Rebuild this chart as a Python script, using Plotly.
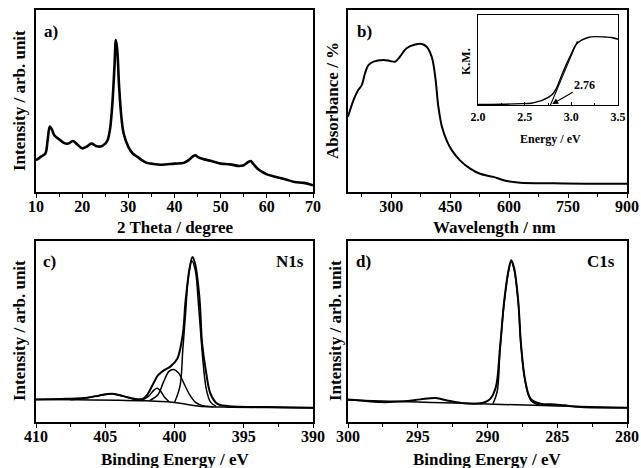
import plotly.graph_objects as go

# ---------------- data ----------------
# a) XRD
xrd_2theta = [10, 11, 12, 12.5, 13, 13.5, 14, 15, 16, 17, 18, 19, 20, 21, 22, 23, 24, 25, 25.5, 26,
              26.5, 27, 27.3, 27.6, 28, 28.5, 29, 30, 31, 32, 33, 34, 35, 37, 40, 42, 43, 44, 44.5,
              45, 46, 48, 50, 52, 54, 55, 56, 56.5, 57, 58, 59, 60, 62, 64, 66, 68, 70]
xrd_intensity = [17.4, 19.3, 21, 28, 36, 34, 31, 29, 27, 26.6, 28, 26, 24, 25, 26.6, 25.3, 25, 26.6, 28.4, 34,
                 47, 69, 83.5, 78, 58, 41, 32, 24.8, 21, 19.3, 17.4, 16, 15.6, 15, 15.6, 16, 17.4, 19.6, 20.2,
                 19.3, 18.3, 17, 15.6, 15.2, 14.3, 14.7, 16.5, 17, 15.6, 12.8, 11, 9.7, 8.3, 7, 5.5, 5, 3.7]

# b) UV-vis
uv_wavelength = [190, 204, 216, 225, 233, 242, 255, 280, 297, 310, 322, 339, 361, 378, 390, 403, 412,
                 420, 429, 441, 454, 475, 501, 526, 560, 594, 628, 713, 798, 900]
uv_absorbance = [41.3, 50.5, 56, 58.7, 65, 69.7, 71.6, 72.5, 72, 71.6, 74.3, 79, 81, 81.3, 79.8, 74.3, 63.3,
                 46.8, 35.8, 28.4, 23, 17.4, 12.8, 10, 8.3, 6, 5.1, 4.8, 4.6, 4.6]

# b) inset: Kubelka-Munk
km_energy = [2.0, 2.25, 2.46, 2.57, 2.64, 2.71, 2.79, 2.84, 2.89, 2.95, 3.0, 3.05, 3.11, 3.18, 3.25,
             3.36, 3.43, 3.5]
km_value = [0.5, 0.8, 1.5, 2, 3.7, 6.3, 11, 18.5, 31.5, 46, 57, 67, 72, 75, 76, 75.5, 75, 73]
tangent_energy = [2.76, 3.065]
tangent_value = [-4, 71]
band_gap_label = "2.76"
band_gap_point = [2.796, 1]
band_gap_text_pos = [3.143, 22]

# c) N1s
n1s_be = [410, 407.8, 406.3, 405.4, 404.5, 403.7, 402.9, 402.3, 402.0, 401.6, 401.2, 400.8, 400.3,
          399.8, 399.4, 399.2, 398.9, 398.7, 398.5, 398.2, 398.0, 397.7, 397.4, 396.9, 395.7, 393.3, 390]
n1s_envelope = [12.5, 12.8, 13.4, 14.7, 15.6, 14.3, 12.8, 12.7, 14.7, 20.2, 25.7, 28.4, 30.6,
                34.9, 48.6, 67, 85.3, 91.2, 87, 68.8, 43, 26.6, 15.6, 10, 8.6, 8.3, 7.9]
n1s_base_be = [410, 407, 404, 402, 400.5, 399.5, 398.5, 397.5, 396, 393, 390]
n1s_base = [12.5, 12.3, 12.0, 11.7, 11.2, 10.2, 9.0, 8.4, 8.2, 8.0, 7.7]
n1s_p1_be = [400.0, 399.6, 399.4, 399.2, 399.0, 398.75, 398.5, 398.3, 398.1, 397.9, 397.7, 397.4, 397.0]
n1s_p1 = [10.8, 20, 40, 60, 80, 89, 84, 68, 48, 30, 18, 11, 8.8]
n1s_p2_be = [401.8, 401.2, 400.8, 400.4, 400.05, 399.7, 399.3, 398.9, 398.5, 398.1, 397.7, 397.2]
n1s_p2 = [11.8, 15, 22, 28, 29, 27, 21, 15, 11, 9.3, 8.7, 8.4]
n1s_p3_be = [402.4, 401.9, 401.5, 401.25, 401.0, 400.7, 400.4]
n1s_p3 = [11.9, 14, 17.5, 18.7, 17, 13.5, 11.3]
n1s_p4_be = [407.5, 406.3, 405.4, 404.5, 403.7, 402.9, 402.3]
n1s_p4 = [12.3, 13.4, 14.7, 15.6, 14.3, 12.5, 11.9]

# d) C1s
c1s_be = [300, 299.1, 297.7, 296.0, 294.8, 293.7, 292.9, 291.9, 291.0, 290.3, 289.8, 289.4, 289.1,
          288.8, 288.5, 288.3, 288.1, 287.8, 287.6, 287.3, 286.9, 286.2, 285.2, 284.5, 283.3, 280]
c1s_envelope = [12.5, 11.9, 11, 11.4, 12.5, 13.2, 11.9, 10.5, 10.1, 10.6, 12.8, 19.3, 41.3,
                67, 83.5, 89.4, 85.3, 67, 43, 23, 12.8, 10.1, 9.7, 9.2, 8.3, 7.9]
c1s_base_be = [300, 297, 294, 291, 288, 285, 282, 280]
c1s_base = [12.2, 11.4, 10.8, 10.2, 9.5, 8.9, 8.3, 7.9]
c1s_p1_be = [289.6, 289.3, 289.1, 288.8, 288.5, 288.3, 288.1, 287.8, 287.6, 287.3, 286.9, 286.3]
c1s_p1 = [10.2, 17, 40, 66, 83, 88.5, 84.5, 66.5, 42.5, 22.5, 12, 9.4]

# ---------------- layout helpers ----------------
W, H = 641, 468
FONT = "Liberation Serif"


def px_x(p):
    return p / W


def px_y(p):
    return 1 - p / H


BLACK = "black"

fig = go.Figure()

line_a = dict(color=BLACK, width=2.6)
line_main = dict(color=BLACK, width=2.0)
line_thin = dict(color=BLACK, width=1.5)

fig.add_trace(go.Scatter(x=xrd_2theta, y=xrd_intensity, mode="lines", line=line_a,
                         line_shape="spline", xaxis="x", yaxis="y"))
fig.add_trace(go.Scatter(x=uv_wavelength, y=uv_absorbance, mode="lines", line=line_main,
                         line_shape="spline", xaxis="x2", yaxis="y2"))
fig.add_trace(go.Scatter(x=km_energy, y=km_value, mode="lines", line=dict(color=BLACK, width=1.4),
                         line_shape="spline", xaxis="x5", yaxis="y5"))
fig.add_trace(go.Scatter(x=tangent_energy, y=tangent_value, mode="lines", line=dict(color=BLACK, width=1.1),
                         xaxis="x5", yaxis="y5"))

for xs, ys, ln in [(n1s_base_be, n1s_base, line_thin), (n1s_p4_be, n1s_p4, line_thin),
                   (n1s_p3_be, n1s_p3, line_thin), (n1s_p2_be, n1s_p2, line_thin),
                   (n1s_p1_be, n1s_p1, line_thin), (n1s_be, n1s_envelope, line_main)]:
    fig.add_trace(go.Scatter(x=xs, y=ys, mode="lines", line=ln, line_shape="spline",
                             xaxis="x3", yaxis="y3"))

for xs, ys, ln in [(c1s_base_be, c1s_base, line_thin), (c1s_p1_be, c1s_p1, line_thin),
                   (c1s_be, c1s_envelope, line_main)]:
    fig.add_trace(go.Scatter(x=xs, y=ys, mode="lines", line=ln, line_shape="spline",
                             xaxis="x4", yaxis="y4"))

tickfont = dict(family=FONT, size=16, color=BLACK, weight="bold")


def xaxis(domain, anchor, rng, dtick, minor_dtick, tick0=0, font=tickfont, ticks="outside", lw=1.5,
          ticklen=4, tickformat=None, standoff=-5):
    d = dict(domain=domain, anchor=anchor, range=rng, dtick=dtick, tick0=tick0,
             showline=True, linecolor=BLACK, linewidth=lw, mirror=True,
             ticks=ticks, ticklen=ticklen, tickwidth=1.3, tickcolor=BLACK, automargin=False,
             showgrid=False, zeroline=False, tickfont=font, ticklabelstandoff=standoff,
             minor=dict(ticks=ticks, ticklen=max(ticklen - 1, 2), tickwidth=1.1, tickcolor=BLACK,
                        dtick=minor_dtick, tick0=tick0, showgrid=False))
    if tickformat:
        d["tickformat"] = tickformat
    return d


def yaxis(domain, anchor, rng=(0, 100), lw=1.5):
    return dict(domain=domain, anchor=anchor, range=list(rng), showline=True, linecolor=BLACK,
                linewidth=lw, mirror=True, ticks="", showticklabels=False, showgrid=False,
                zeroline=False, fixedrange=True, automargin=False)


top_dom = [px_y(192), px_y(10)]
bot_dom = [px_y(422), px_y(241)]
left_dom = [px_x(36), px_x(313)]
right_dom = [px_x(348), px_x(627)]

fig.update_layout(
    width=W, height=H, margin=dict(l=0, r=0, t=0, b=0, pad=0), autosize=False,
    paper_bgcolor="white", plot_bgcolor="white", showlegend=False,
    font=dict(family=FONT, color=BLACK),
    xaxis=xaxis(left_dom, "y", [10, 70], 10, 5),
    yaxis=yaxis(top_dom, "x"),
    xaxis2=xaxis(right_dom, "y2", [190, 900], 150, 75),
    yaxis2=yaxis(top_dom, "x2"),
    xaxis3=xaxis(left_dom, "y3", [410, 390], 5, 2.5),
    yaxis3=yaxis(bot_dom, "x3"),
    xaxis4=xaxis(right_dom, "y4", [300, 280], 5, 2.5),
    yaxis4=yaxis(bot_dom, "x4"),
    xaxis5=xaxis([px_x(478), px_x(618)], "y5", [2.0, 3.5], 0.5, 0.25,
                 font=dict(family=FONT, size=12, color=BLACK, weight="bold"), ticks="inside",
                 lw=1.0, ticklen=3, tickformat=".1f", standoff=1),
    yaxis5=yaxis([px_y(105), px_y(15)], "x5", lw=1.0),
)

title_font = dict(family=FONT, size=17, color=BLACK, weight="bold")
label_font = dict(family=FONT, size=17, color=BLACK, weight="bold")
inset_font = dict(family=FONT, size=12, color=BLACK, weight="bold")

annotations = [
    # x axis titles
    dict(text="2 Theta / degree", x=px_x(175), y=px_y(227)),
    dict(text="Wavelength / nm", x=px_x(494), y=px_y(227)),
    dict(text="Binding Energy / eV", x=px_x(175), y=px_y(459)),
    dict(text="Binding Energy / eV", x=px_x(487), y=px_y(459)),
    # y axis titles
    dict(text="Intensity / arb. unit", x=px_x(19), y=px_y(101), textangle=-90),
    dict(text="Absorbance / %", x=px_x(332), y=px_y(101), textangle=-90),
    dict(text="Intensity / arb. unit", x=px_x(19), y=px_y(331), textangle=-90),
    dict(text="Intensity / arb. unit", x=px_x(335), y=px_y(331), textangle=-90),
]
for a in annotations:
    a.update(xref="paper", yref="paper", showarrow=False, font=title_font,
             xanchor="center", yanchor="middle")

panel_labels = [
    dict(text="a)", x=px_x(42), y=px_y(32), xanchor="left"),
    dict(text="b)", x=px_x(355), y=px_y(32), xanchor="left"),
    dict(text="c)", x=px_x(41), y=px_y(261), xanchor="left"),
    dict(text="N1s", x=px_x(306), y=px_y(261), xanchor="right"),
    dict(text="d)", x=px_x(354), y=px_y(261), xanchor="left"),
    dict(text="C1s", x=px_x(617), y=px_y(261), xanchor="right"),
]
for a in panel_labels:
    a.update(xref="paper", yref="paper", showarrow=False, font=label_font, yanchor="middle")

inset_ann = [
    dict(text="Energy / eV", x=px_x(550), y=px_y(139), xref="paper", yref="paper", showarrow=False,
         font=inset_font, xanchor="center", yanchor="middle"),
    dict(text="K.M.", x=px_x(466), y=px_y(62), xref="paper", yref="paper", showarrow=False,
         font=inset_font, xanchor="center", yanchor="middle", textangle=-90),
    dict(text=band_gap_label, x=band_gap_point[0], y=band_gap_point[1], xref="x5", yref="y5",
         ax=band_gap_text_pos[0], ay=band_gap_text_pos[1], axref="x5", ayref="y5",
         showarrow=True, arrowhead=2, arrowsize=1, arrowwidth=1.2, arrowcolor=BLACK,
         font=inset_font),
]

fig.update_layout(annotations=annotations + panel_labels + inset_ann)

# the page's default 8px body margin would shift the whole figure; remove it
fig.write_html("out.html", config={"displayModeBar": False},
               post_script="document.body.style.margin='0px';")
